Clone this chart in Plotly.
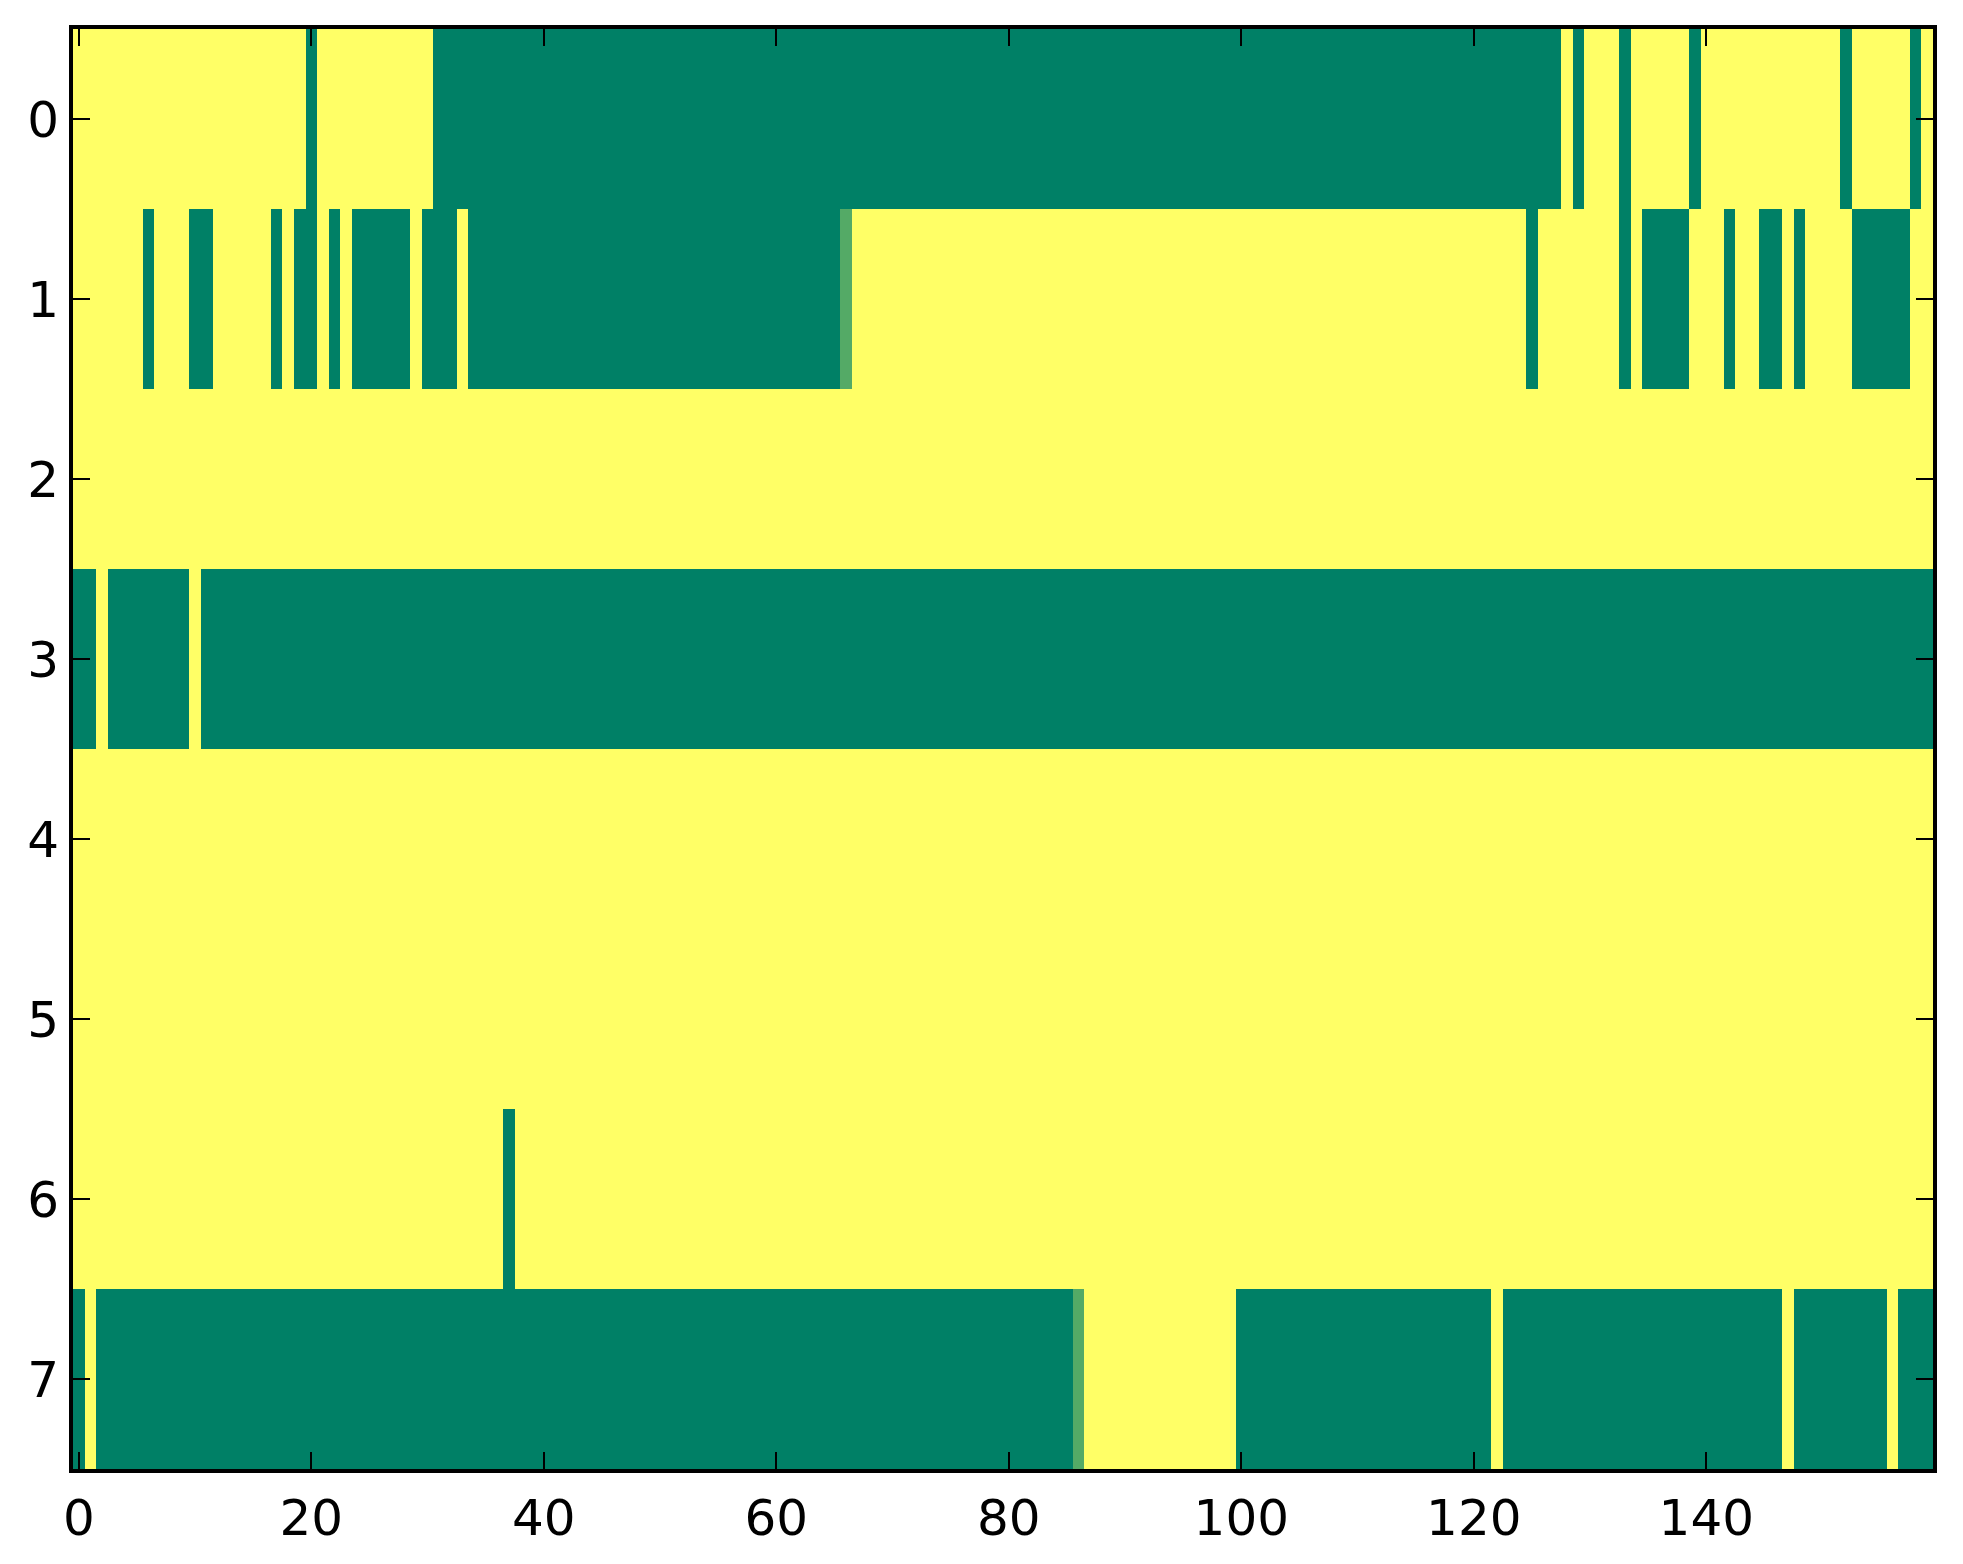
import plotly.graph_objects as go

# one string per row, 16 groups of 10 columns; '1' = yellow, '0' = green, 'h' = in between
row0 = ("1111111111 1111111111 0111111111 1000000000 0000000000 0000000000 0000000000 0000000000 "
        "0000000000 0000000000 0000000000 0000000000 0000000010 1110111110 1111111111 1101111101")
row1 = ("1111110111 0011111010 0101000001 0001000000 0000000000 0000000000 000000h111 1111111111 "
        "1111111111 1111111111 1111111111 1111111111 1111101111 1110100001 1101100101 1110000011")
row2 = ("1111111111 1111111111 1111111111 1111111111 1111111111 1111111111 1111111111 1111111111 "
        "1111111111 1111111111 1111111111 1111111111 1111111111 1111111111 1111111111 1111111111")
row3 = ("0010000000 1000000000 0000000000 0000000000 0000000000 0000000000 0000000000 0000000000 "
        "0000000000 0000000000 0000000000 0000000000 0000000000 0000000000 0000000000 0000000000")
row4 = row2
row5 = row2
row6 = ("1111111111 1111111111 1111111111 1111111011 1111111111 1111111111 1111111111 1111111111 "
        "1111111111 1111111111 1111111111 1111111111 1111111111 1111111111 1111111111 1111111111")
row7 = ("0100000000 0000000000 0000000000 0000000000 0000000000 0000000000 0000000000 0000000000 "
        "000000h111 1111111111 0000000000 0000000000 0010000000 0000000000 0000000100 0000001000")

levels = {'0': 0.0, '1': 1.0, 'h': 0.33}
rows = [row0, row1, row2, row3, row4, row5, row6, row7]
z = [[levels[c] for c in r.replace(' ', '')] for r in rows]

x_ticks = [0, 20, 40, 60, 80, 100, 120, 140]
y_ticks = [0, 1, 2, 3, 4, 5, 6, 7]

# matplotlib "summer"
summer = [[0, 'rgb(0,128,102)'], [1, 'rgb(255,255,102)']]

fig = go.Figure(go.Heatmap(z=z, x=list(range(len(z[0]))), y=list(range(len(z))),
                           colorscale=summer, zmin=0, zmax=1, showscale=False))

axis_style = dict(showline=True, linewidth=4, linecolor='black', mirror='ticks',
                  ticks='inside', ticklen=17, tickwidth=2, tickcolor='black',
                  showgrid=False, zeroline=False, automargin=False,
                  tickfont=dict(family='DejaVu Sans', size=50, color='black'))

fig.update_xaxes(range=[-0.5, 159.5], tickvals=x_ticks, ticklabelstandoff=2, **axis_style)
fig.update_yaxes(range=[7.5, -0.5], tickvals=y_ticks, ticklabelstandoff=0, **axis_style)

# the page body adds an 8px offset, so margins are trimmed on the top/left
fig.update_layout(width=1963, height=1564,
                  margin=dict(l=65, r=38, t=21, b=103),
                  plot_bgcolor='white', paper_bgcolor='white')

fig.write_html("out.html")
